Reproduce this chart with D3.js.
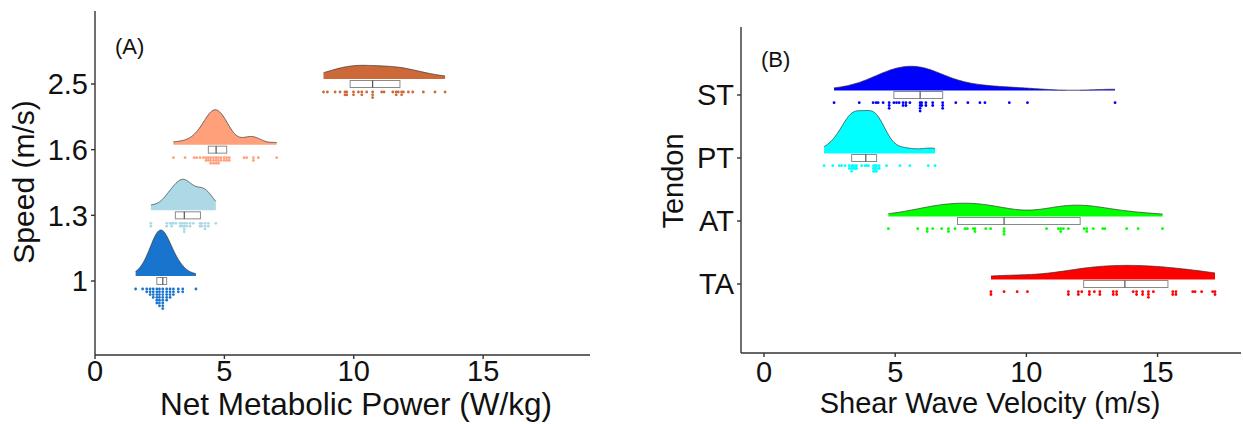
<!DOCTYPE html>
<html>
<head>
<meta charset="utf-8">
<script src="https://cdn.jsdelivr.net/npm/d3@7"></script>
<style>
  body { margin: 0; background: #fff; }
  text { font-family: "Liberation Sans", Arial, sans-serif; fill: #111; }
</style>
</head>
<body>
<svg id="chart"></svg>
<script>
// DATA - panel A (net metabolic power per speed, W/kg)
const speedLevels = ["1", "1.3", "1.6", "2.5"];
const speedColors = ["#1874CD", "#ADD8E6", "#FFA07A", "#CD6839"];
const power10 = [1.57, 1.84, 2.00, 2.00, 2.13, 2.13, 2.13, 2.25, 2.25, 2.25, 2.25,
  2.39, 2.39, 2.39, 2.39, 2.39, 2.39, 2.49, 2.49, 2.49, 2.49, 2.49, 2.49, 2.49,
  2.62, 2.62, 2.62, 2.62, 2.62, 2.62, 2.62, 2.62, 2.77, 2.77, 2.77, 2.77, 2.77,
  2.90, 2.90, 2.90, 2.90, 3.03, 3.03, 3.03, 3.22, 3.22, 3.39, 3.39, 3.90];
const power13 = [2.16, 2.16, 2.77, 2.77, 2.90, 2.96, 2.96, 3.03, 3.13, 3.29, 3.29,
  3.35, 3.35, 3.45, 3.45, 3.45, 3.45, 3.54, 3.54, 3.67, 3.67, 3.80, 4.06, 4.06,
  4.12, 4.12, 4.25, 4.25, 4.25, 4.38, 4.38, 4.67];
const power16 = [3.03, 3.48, 3.83, 3.93, 4.06, 4.19, 4.29, 4.29, 4.38, 4.38, 4.47,
  4.47, 4.47, 4.58, 4.58, 4.58, 4.68, 4.68, 4.68, 4.77, 4.77, 4.77, 4.87, 4.87,
  4.99, 4.99, 5.09, 5.09, 5.19, 5.19, 5.76, 5.86, 6.12, 6.12, 6.31, 7.02];
const power25 = [8.83, 8.98, 9.28, 9.47, 9.66, 9.66, 9.73, 9.73, 9.99, 9.99, 10.18,
  10.31, 10.31, 10.50, 10.73, 10.73, 10.73, 11.08, 11.17, 11.51, 11.64, 11.64,
  11.72, 11.85, 11.85, 11.92, 12.11, 12.28, 12.69, 13.14, 13.53];
const powerTicks = [0, 5, 10, 15];

// DATA - panel B (shear wave velocity per tendon, m/s)
const tendons = ["TA", "AT", "PT", "ST"];
const tendonColors = ["#FF0000", "#00FF00", "#00FFFF", "#0000FF"];
const swvTA = [8.65, 8.65, 9.15, 9.65, 10.04, 11.60, 11.60, 11.98, 11.98, 12.11,
  12.40, 12.40, 12.59, 12.80, 12.80, 13.31, 13.31, 13.44, 13.44, 14.07, 14.20,
  14.20, 14.43, 14.43, 14.65, 14.65, 14.65, 14.84, 15.58, 15.58, 15.70, 15.70,
  16.34, 16.43, 16.68, 17.10, 17.19, 17.19];
const swvAT = [4.74, 5.86, 6.22, 6.22, 6.43, 6.77, 7.03, 7.03, 7.28, 7.66, 7.75,
  7.98, 8.04, 8.04, 8.45, 8.64, 9.15, 9.15, 9.15, 10.77, 11.22, 11.31, 11.31,
  11.41, 11.60, 12.20, 12.30, 12.30, 12.55, 12.91, 12.99, 13.82, 14.26, 15.19];
const swvPT = [2.29, 2.62, 2.87, 2.96, 3.09, 3.25, 3.25, 3.34, 3.34, 3.34, 3.40,
  3.40, 3.47, 3.47, 3.53, 3.53, 3.72, 3.85, 3.91, 3.98, 4.17, 4.17, 4.17, 4.23,
  4.23, 4.23, 4.29, 4.29, 4.29, 4.39, 4.39, 4.67, 5.18, 5.56, 6.26, 6.52];
const swvST = [2.67, 3.63, 4.16, 4.27, 4.35, 4.54, 4.77, 4.77, 4.77, 4.95, 5.05,
  5.15, 5.30, 5.30, 5.41, 5.41, 5.56, 5.95, 5.95, 5.95, 5.95, 6.01, 6.01, 6.17,
  6.17, 6.43, 6.43, 6.81, 6.81, 6.81, 7.31, 7.77, 8.23, 8.42, 9.35, 10.04, 13.38];
const swvTicks = [0, 5, 10, 15];

const width = 1243;
const height = 424;

const svg = d3.select("#chart").attr("width", width).attr("height", height);

// gaussian kernel density, trimmed to the data range
function kde(v, bw, n = 128) {
  const [lo, hi] = d3.extent(v);
  return d3.range(n).map((i) => {
    const x = lo + ((hi - lo) * i) / (n - 1);
    const d = d3.sum(v, (xi) => Math.exp(-0.5 * ((x - xi) / bw) ** 2)) /
      (v.length * bw * Math.sqrt(2 * Math.PI));
    return [x, d];
  });
}

function panel(opt) {
  const g = svg.append("g");
  const x = d3.scaleLinear().domain(opt.xDomain).range(opt.xRange);
  const y = d3.scalePoint().domain(opt.cats).range(opt.yRange);

  const dens = opt.groups.map((v, i) => kde(v, opt.bw[i]));
  const maxD = d3.max(dens, (d) => d3.max(d, (p) => p[1]));
  const h = d3.scaleLinear().domain([0, maxD]).range([0, opt.maxH]);

  opt.cats.forEach((c, i) => {
    const v = d3.sort(opt.groups[i]);
    const cy = y(c);
    const base = cy - opt.baseOff;
    const col = opt.colors[i];

    // half violin
    const area = d3.area().x((d) => x(d[0])).y0(base).y1((d) => base - h(d[1])).curve(d3.curveBasis);
    g.append("path").attr("d", area(dens[i])).attr("fill", col);
    const line = d3.line().x((d) => x(d[0])).y((d) => base - h(d[1])).curve(d3.curveBasis);
    g.append("path").attr("d", line(dens[i])).attr("fill", "none")
      .attr("stroke", "#333").attr("stroke-width", 0.7);

    // box (no whiskers)
    const q1 = d3.quantile(v, 0.25), md = d3.quantile(v, 0.5), q3 = d3.quantile(v, 0.75);
    g.append("rect").attr("x", x(q1)).attr("y", cy - 3.5)
      .attr("width", x(q3) - x(q1)).attr("height", 7)
      .attr("fill", "#fff").attr("stroke", "#8a8a8a").attr("stroke-width", 1);
    g.append("line").attr("x1", x(md)).attr("x2", x(md))
      .attr("y1", cy - 3.5).attr("y2", cy + 3.5)
      .attr("stroke", "#444").attr("stroke-width", 1.1);

    // stacked dots
    const counts = new Map();
    v.forEach((d) => {
      const k = counts.get(d) || 0;
      counts.set(d, k + 1);
      g.append("circle").attr("cx", x(d)).attr("cy", cy + opt.dotOff + k * 2.8)
        .attr("r", 1.4).attr("fill", col);
    });
  });

  // axes
  const axis = g.append("g").attr("stroke", "#333").attr("stroke-width", 1.4);
  axis.append("line").attr("x1", opt.xRange[0]).attr("x2", opt.xRange[1])
    .attr("y1", opt.axisBottom).attr("y2", opt.axisBottom);
  axis.append("line").attr("x1", opt.xRange[0]).attr("x2", opt.xRange[0])
    .attr("y1", opt.axisTop).attr("y2", opt.axisBottom);

  opt.xTicks.forEach((t) => {
    axis.append("line").attr("x1", x(t)).attr("x2", x(t))
      .attr("y1", opt.axisBottom).attr("y2", opt.axisBottom + 4);
    g.append("text").attr("x", x(t)).attr("y", opt.xLabelY)
      .attr("text-anchor", "middle").style("font-size", "29px").text(t);
  });
  opt.cats.forEach((c) => {
    axis.append("line").attr("x1", opt.xRange[0] - 4).attr("x2", opt.xRange[0])
      .attr("y1", y(c)).attr("y2", y(c));
    g.append("text").attr("x", opt.xRange[0] - 7).attr("y", y(c)).attr("dy", "0.36em")
      .attr("text-anchor", "end").style("font-size", "29px").text(c);
  });

  g.append("text").attr("x", opt.xTitle[0]).attr("y", opt.xTitle[1])
    .attr("text-anchor", "middle").style("font-size", opt.xTitle[2] + "px").text(opt.xLabel);
  g.append("text").attr("transform", `translate(${opt.yTitle[0]},${opt.yTitle[1]}) rotate(-90)`)
    .attr("text-anchor", "middle").style("font-size", opt.yTitle[2] + "px").text(opt.yLabel);
  g.append("text").attr("x", opt.tag[0]).attr("y", opt.tag[1])
    .style("font-size", "22px").text(opt.tagText);
}

panel({
  cats: speedLevels, colors: speedColors,
  groups: [power10, power13, power16, power25],
  bw: [0.28, 0.3, 0.3, 0.75],
  xDomain: [0, 19.13], xRange: [95, 590], yRange: [281, 84],
  axisTop: 11, axisBottom: 355, maxH: 46, baseOff: 5, dotOff: 8,
  xTicks: powerTicks, xLabelY: 381,
  xLabel: "Net Metabolic Power (W/kg)", xTitle: [356, 415, 31.5],
  yLabel: "Speed (m/s)", yTitle: [34, 182, 30],
  tag: [115, 54], tagText: "(A)"
});

panel({
  cats: tendons, colors: tendonColors,
  groups: [swvTA, swvAT, swvPT, swvST],
  bw: [1.2, 0.9, 0.38, 0.8],
  xDomain: [-0.877, 18.18], xRange: [741, 1241], yRange: [284, 95],
  axisTop: 27, axisBottom: 353, maxH: 43, baseOff: 4.5, dotOff: 7.7,
  xTicks: swvTicks, xLabelY: 382,
  xLabel: "Shear Wave Velocity (m/s)", xTitle: [990, 413, 29],
  yLabel: "Tendon", yTitle: [683, 181, 29],
  tag: [761, 67], tagText: "(B)"
});
</script>
</body>
</html>
